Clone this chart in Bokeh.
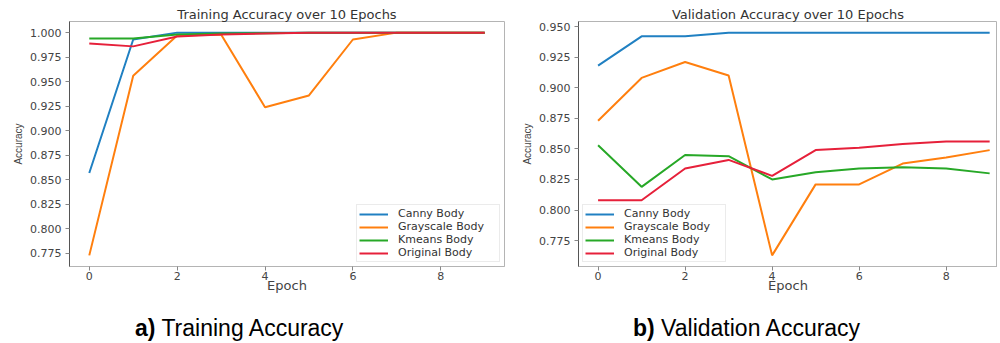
from bokeh.plotting import figure
from bokeh.models import Range1d, FixedTicker, NumeralTickFormatter, Legend, LegendItem, Div
from bokeh.layouts import row, column
from bokeh.embed import file_html
from bokeh.resources import INLINE

epochs = list(range(10))
series_names = ["Canny Body", "Grayscale Body", "Kmeans Body", "Original Body"]
colors = ["#2080c2", "#ff7f0e", "#27a827", "#e6203a"]

train_canny = [0.857, 0.993, 1.000, 1.000, 1.000, 1.000, 1.000, 1.000, 1.000, 1.000]
train_gray = [0.773, 0.956, 0.997, 0.998, 0.924, 0.936, 0.993, 1.000, 1.000, 1.000]
train_kmeans = [0.994, 0.994, 0.998, 0.999, 0.9995, 1.000, 1.000, 1.000, 1.000, 1.000]
train_orig = [0.989, 0.986, 0.996, 0.998, 0.999, 1.000, 1.000, 1.000, 1.000, 1.000]

val_canny = [0.918, 0.942, 0.942, 0.945, 0.945, 0.945, 0.945, 0.945, 0.945, 0.945]
val_gray = [0.873, 0.908, 0.921, 0.910, 0.763, 0.821, 0.821, 0.838, 0.843, 0.849]
val_kmeans = [0.853, 0.819, 0.845, 0.844, 0.825, 0.831, 0.834, 0.835, 0.834, 0.830]
val_orig = [0.808, 0.808, 0.834, 0.841, 0.828, 0.849, 0.851, 0.854, 0.856, 0.856]

x_ticks = [0, 2, 4, 6, 8]
train_yticks = [0.775, 0.800, 0.825, 0.850, 0.875, 0.900, 0.925, 0.950, 0.975, 1.000]
val_yticks = [0.775, 0.800, 0.825, 0.850, 0.875, 0.900, 0.925, 0.950]

titles = ["Training Accuracy over 10 Epochs", "Validation Accuracy over 10 Epochs"]

TICK_FONT = "DejaVu Sans"


def make_plot(title, series, yticks, x_end, mb_left, mb_right, frame_w, legend_loc):
    allv = [v for s in series for v in s]
    lo, hi = min(allv), max(allv)
    pad = 0.05 * (hi - lo)
    p = figure(frame_width=frame_w, frame_height=245,
               min_border_left=mb_left, min_border_right=mb_right,
               min_border_top=21, min_border_bottom=41,
               x_range=Range1d(-0.45, x_end), y_range=Range1d(lo - pad, hi + pad),
               output_backend="svg", toolbar_location=None, title=title)
    p.title.text_font = "DejaVu Sans"
    p.title.text_font_size = "13px"
    p.title.text_font_style = "normal"
    p.title.text_color = "#333333"
    p.title.align = "center"
    p.title.standoff = 0
    p.title.offset = 0
    p.grid.visible = False
    p.outline_line_color = "#b4b4b4"
    p.outline_line_width = 1
    p.background_fill_color = "white"
    p.border_fill_color = "white"

    items = []
    for name, col, vals in zip(series_names, colors, series):
        r = p.line(epochs, vals, line_color=col, line_width=2)
        items.append(LegendItem(label=name, renderers=[r]))

    leg = Legend(items=items, location=legend_loc)
    leg.label_text_font = "DejaVu Sans"
    leg.label_text_font_size = "11px"
    leg.label_text_color = "#333333"
    leg.label_height = 12
    leg.label_width = 99
    leg.glyph_height = 12
    leg.glyph_width = 29
    leg.label_standoff = 10
    leg.spacing = 0
    leg.padding = 2
    leg.margin = 4
    leg.border_line_color = "#d8d8d8"
    leg.background_fill_color = "white"
    leg.background_fill_alpha = 0.85
    p.add_layout(leg)

    p.xaxis.ticker = FixedTicker(ticks=x_ticks)
    p.yaxis.ticker = FixedTicker(ticks=yticks)
    p.yaxis.formatter = NumeralTickFormatter(format="0.000")
    p.xaxis.minor_tick_line_color = None
    p.yaxis.minor_tick_line_color = None
    p.yaxis.axis_line_color = "#555555"
    p.xaxis.axis_line_color = "#b4b4b4"
    for ax in (p.xaxis, p.yaxis):
        ax.major_tick_line_color = "#888888"
        ax.major_tick_out = 4
        ax.major_tick_in = 0
        ax.major_label_text_font = TICK_FONT
        ax.major_label_text_font_size = "11px"
        ax.major_label_text_color = "#444444"
        ax.axis_label_text_font_style = "normal"
        ax.axis_label_text_color = "#444444"
    p.xaxis.major_label_standoff = 1
    p.yaxis.major_label_standoff = 4
    p.xaxis.axis_label = "Epoch"
    p.xaxis.axis_label_text_font = "DejaVu Sans"
    p.xaxis.axis_label_text_font_size = "13px"
    p.xaxis.axis_label_standoff = -5
    p.yaxis.axis_label = "Accuracy"
    p.yaxis.axis_label_text_font = "Liberation Sans"
    p.yaxis.axis_label_text_font_size = "10px"
    p.yaxis.axis_label_standoff = 3
    return p


p1 = make_plot(titles[0], [train_canny, train_gray, train_kmeans, train_orig],
               train_yticks, 9.45, 69, 11, 435, "bottom_right")
p2 = make_plot(titles[1], [val_canny, val_gray, val_kmeans, val_orig],
               val_yticks, 9.18, 63, 0, 419, "bottom_left")

cap_style = "font-family:'Liberation Sans', Arial, sans-serif; font-size:23px; line-height:23px; color:#000; padding-top:10px; white-space:nowrap;"
d1 = Div(text=f'<div style="{cap_style} padding-left:135px;"><b>a)</b> Training Accuracy</div>',
         width=515, height=30, margin=0)
d2 = Div(text=f'<div style="{cap_style} padding-left:118px;"><b>b)</b> Validation Accuracy</div>',
         width=482, height=30, margin=0)

layout = column(row(p1, p2), row(d1, d2))

open("out.html", "w").write(file_html(layout, INLINE))
